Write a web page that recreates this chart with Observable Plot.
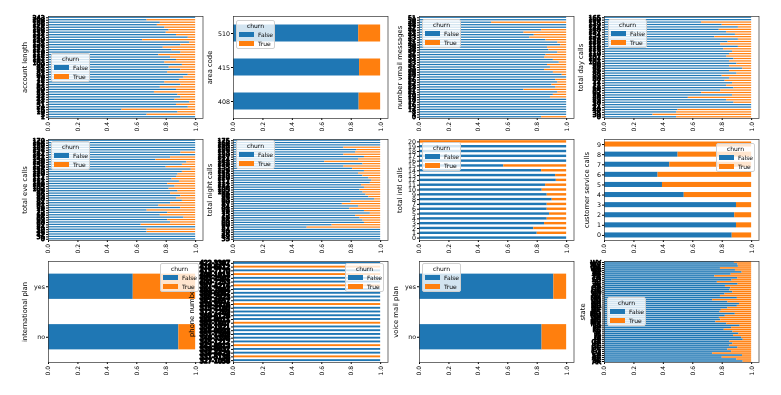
<!DOCTYPE html>
<html><head><meta charset="utf-8">
<script src="https://cdn.jsdelivr.net/npm/d3@7"></script>
<script src="https://cdn.jsdelivr.net/npm/@observablehq/plot@0.6"></script>
<style>
body{margin:0;background:#fff;}
#fig{position:relative;width:781px;height:395px;overflow:hidden;font-family:"DejaVu Sans",sans-serif;}
#fig svg{will-change:transform;}
.lg{position:absolute;width:39px;height:29px;box-sizing:border-box;border:0.8px solid #d0d0d0;border-radius:2px;background:rgba(255,255,255,0.8);font-family:"DejaVu Sans";font-size:6px;color:#000;will-change:transform;}
.lg .t{position:absolute;left:0;right:0;top:1px;text-align:center;line-height:7px;}
.lg .r{position:absolute;left:2px;height:8px;line-height:8px;display:flex;align-items:center;}
.lg .sw{display:inline-block;width:15px;height:4.5px;margin-right:4px;}
</style></head><body><div id="fig"></div><script>
const churnKeys = ["False", "True"];
const churnColors = ["#1f77b4", "#ff7f0e"];
const legendTitle = "churn";
const xTicks = [0, 0.2, 0.4, 0.6, 0.8, 1.0];

// --- category labels (bottom -> top, as in the crosstab index) and share of churn=False ---
const accountLengthLabels = [1,3,10,16,24,31,37,42,47,51,55,59,63,67,71,75,79,83,87,91,95,99,103,107,111,115,119,123,127,131,135,139,143,147,152,158,165,175,188,208,243];
const accountLengthFalse = [1.0,0.67,0.88,0.50,0.95,0.87,0.96,0.86,0.90,0.88,0.72,0.87,0.76,0.90,0.79,0.89,0.92,0.95,0.81,0.90,0.82,0.91,0.79,0.87,0.83,0.75,0.90,0.84,0.78,0.90,0.96,0.64,0.95,0.87,0.80,0.82,0.79,0.74,0.76,0.67,1.0];

const areaCodeLabels = [408, 415, 510];
const areaCodeFalse = [0.854, 0.857, 0.851];

const vmailLabels = [0,4,8,14,15,16,17,18,19,20,21,22,23,24,25,26,27,28,29,30,31,32,33,34,35,36,37,38,39,40,41,42,43,44,45,46,47,48,49,50,51];
const vmailFalse = [0.83,1.0,1.0,1.0,1.0,1.0,1.0,1.0,0.89,0.91,0.94,0.71,0.925,0.90,0.94,0.925,1.0,0.97,0.91,0.85,0.89,0.87,0.95,0.91,0.85,0.86,0.94,0.88,0.87,0.96,0.94,0.86,0.75,0.78,0.71,0.83,1.0,1.0,0.49,1.0,1.0];

const dayCallsLabels = [0,30,35,40,44,47,50,53,56,59,62,65,68,71,74,77,80,83,86,89,92,95,98,101,104,107,110,113,116,119,122,125,128,131,134,137,140,144,149,155,160,165];
const dayCallsFalse = [0.49,0.33,0.49,0.50,1.0,1.0,0.88,0.83,0.57,0.87,0.66,0.79,0.88,0.83,0.87,0.82,0.85,0.80,0.90,0.85,0.94,0.85,0.90,0.85,0.88,0.83,0.85,0.87,0.81,0.91,0.79,0.84,0.91,0.75,0.89,0.83,0.78,0.91,0.80,0.66,1.0,1.0];

const eveCallsLabels = [0,36,42,46,50,54,57,60,63,66,69,72,75,78,81,84,87,90,93,96,99,102,105,108,111,114,117,120,123,126,129,132,135,138,141,144,147,151,155,159,164,170];
const eveCallsFalse = [1,1,1,0.67,0.67,1,0.63,0.83,0.81,0.92,0.76,0.81,0.67,0.90,0.75,0.83,0.91,0.87,0.90,0.83,0.88,0.82,0.86,0.81,0.89,0.84,0.87,0.88,0.91,0.97,0.80,0.91,0.94,0.73,0.83,1,0.90,1,1,1,1,1];

const nightCallsLabels = [33,42,46,50,54,57,60,63,66,69,72,75,78,81,84,87,90,93,96,99,102,105,108,111,114,117,120,123,126,129,132,135,138,141,144,147,150,153,156,160,164,168,175];
const nightCallsFalse = [1,1,1,1,1,0.50,0.67,0.89,0.88,0.86,0.83,0.93,0.89,0.79,0.85,0.74,0.80,0.96,0.92,0.90,0.88,0.86,0.89,0.87,0.93,0.94,0.92,0.88,0.85,0.89,0.81,0.75,0.88,0.62,0.85,0.89,0.75,0.83,0.84,0.75,1,1,1];

const intlCallsLabels = [0,1,2,3,4,5,6,7,8,9,10,11,12,13,14,15,16,17,18,19,20];
const intlCallsFalse = [1.0,0.80,0.777,0.85,0.868,0.884,0.868,0.868,0.902,0.868,0.834,0.857,0.93,0.925,0.83,0.573,1,1,1,1,0];

const custServLabels = [0,1,2,3,4,5,6,7,8,9];
const custServFalse = [0.868,0.897,0.885,0.897,0.542,0.394,0.364,0.444,0.5,0];

const intlPlanLabels = ["no", "yes"];
const intlPlanFalse = [0.886, 0.576];

const phoneLabels = ["327-1058","331-5138","334-4429","339-6637","342-8912","345-1212","348-3398","351-7369","355-9993","358-1921","362-1407","365-9011","369-6128","372-7269","375-2180","379-3376","382-4657","386-2923","389-6082","393-7984","397-4214","400-7253","403-2562","408-1913","413-7170","418-6412","422-3387"];
const phoneFalse = [1,0,1,1,0,1,1,1,1,1,0,1,1,1,1,0,1,1,1,1,0,1,1,0,1,0,1];

const vmPlanLabels = ["no", "yes"];
const vmPlanFalse = [0.833, 0.913];

const stateLabels = ["AK","AL","AR","AZ","CA","CO","CT","DC","DE","FL","GA","HI","IA","ID","IL","IN","KS","KY","LA","MA","MD","ME","MI","MN","MO","MS","MT","NC","ND","NE","NH","NJ","NM","NV","NY","OH","OK","OR","PA","RI","SC","SD","TN","TX","UT","VA","VT","WA","WI","WV","WY"];
const stateFalse = [0.942,0.900,0.800,0.938,0.735,0.864,0.838,0.907,0.852,0.873,0.852,0.943,0.932,0.877,0.914,0.873,0.814,0.864,0.922,0.831,0.757,0.790,0.781,0.821,0.889,0.785,0.794,0.838,0.903,0.918,0.839,0.735,0.903,0.788,0.819,0.872,0.852,0.859,0.822,0.908,0.767,0.867,0.906,0.750,0.861,0.935,0.890,0.788,0.910,0.906,0.883];

const fig = document.getElementById("fig");
const colLeft = [48.3, 233.3, 419.3, 604.3];
const rowTop = [16, 139, 261];
const rowH = [102, 101, 101];
const FW = 154.5;

function addLegend(pos) {
  const d = document.createElement("div");
  d.className = "lg";
  d.style.left = pos[0] + "px";
  d.style.top = pos[1] + "px";
  d.innerHTML = `<div class="t">${legendTitle}</div>` + churnKeys.map((k, i) =>
    `<div class="r" style="top:${9.5 + i * 9}px"><span class="sw" style="background:${churnColors[i]}"></span>${k}</div>`).join("");
  fig.appendChild(d);
}

function panel(labels, falseShare, ylabel, col, row, labelX, legendPos, opts = {}) {
  const cats = labels.map(String);
  const data = cats.flatMap((c, i) => [
    {cat: c, churn: churnKeys[0], v: falseShare[i]},
    {cat: c, churn: churnKeys[1], v: 1 - falseShare[i]}
  ]);
  const ML = 70, MR = 8, MT = 8, MB = 24;
  const h = rowH[row];
  const inset = opts.inset || 0;
  const svg = Plot.plot({
    width: ML + FW + MR, height: MT + h + MB,
    marginLeft: ML, marginRight: MR, marginTop: MT, marginBottom: MB,
    style: {background: "transparent", overflow: "visible", fontFamily: "DejaVu Sans", fontSize: "6px", color: "#000"},
    x: {domain: [0, 1.05]},
    y: {type: "band", domain: cats.slice().reverse(), paddingInner: 0.5, paddingOuter: 0.25, round: false},
    color: {domain: churnKeys, range: churnColors},
    marks: [
      Plot.barX(data, {x: "v", y: "cat", fill: "churn", insetTop: inset, insetBottom: inset}),
      Plot.axisX({ticks: xTicks, tickFormat: d3.format(".1f"), tickRotate: -90, tickSize: 2, tickPadding: 1.5, label: null, fontSize: 6, stroke: "#000"}),
      Plot.axisY({ticks: cats, tickSize: 2, tickPadding: 1.5, label: null, fontSize: opts.tickFont || 6.3,
        ...(opts.blob ? {textStroke: "#000", textStrokeWidth: opts.blob, textStrokeOpacity: 1} : {})}),
      Plot.text([ylabel], {frameAnchor: "left", dx: labelX - colLeft[col], rotate: -90, fontSize: 6.8, textAnchor: "middle", lineAnchor: "middle", fill: "#000"}),
      Plot.frame({stroke: "#333", strokeWidth: 0.7})
    ]
  });
  svg.style.position = "absolute";
  svg.style.left = (colLeft[col] - ML) + "px";
  svg.style.top = (rowTop[row] - MT) + "px";
  fig.appendChild(svg);
  if (legendPos) addLegend(legendPos);
}

panel(accountLengthLabels, accountLengthFalse, "account length", 0, 0, 24.5, [51, 53], {blob: 0.8, tickFont: 6.6});
panel(areaCodeLabels, areaCodeFalse, "area code", 1, 0, 210, [236, 20]);
panel(vmailLabels, vmailFalse, "number vmail messages", 2, 0, 400, [422, 19], {blob: 0.6});
panel(dayCallsLabels, dayCallsFalse, "total day calls", 3, 0, 581, [608, 19], {blob: 0.8, tickFont: 6.6});
panel(eveCallsLabels, eveCallsFalse, "total eve calls", 0, 1, 24.7, [51, 141], {blob: 0.8, tickFont: 6.6});
panel(nightCallsLabels, nightCallsFalse, "total night calls", 1, 1, 210, [236, 140], {blob: 0.8, tickFont: 6.6});
panel(intlCallsLabels, intlCallsFalse, "total intl calls", 2, 1, 400, [422, 142]);
panel(custServLabels, custServFalse, "customer service calls", 3, 1, 587, [716, 143]);
panel(intlPlanLabels, intlPlanFalse, "international plan", 0, 2, 25, null);
panel(phoneLabels, phoneFalse, "phone number", 1, 2, 191.5, [345, 263], {blob: 1.6});
panel(vmPlanLabels, vmPlanFalse, "voice mail plan", 2, 2, 396, [422, 263]);
panel(stateLabels, stateFalse, "state", 3, 2, 583, [607, 297], {blob: 0.8, inset: -0.25, tickFont: 6.6});
addLegend([160, 263]);
</script></body></html>
